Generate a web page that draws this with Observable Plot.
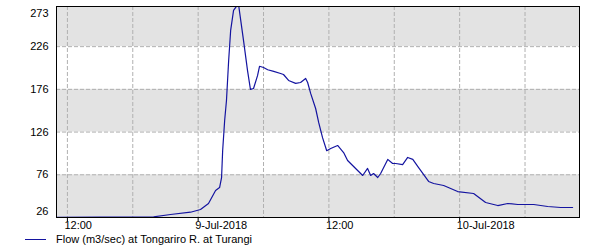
<!DOCTYPE html>
<html>
<head>
<meta charset="utf-8">
<script src="https://cdn.jsdelivr.net/npm/d3@7"></script>
<script src="https://cdn.jsdelivr.net/npm/@observablehq/plot@0.6"></script>
<style>
  body { margin: 0; background: #fff; font-family: "Liberation Sans", Arial, sans-serif; }
  #wrap { position: relative; width: 600px; height: 250px; }
  #legend { position: absolute; left: 0; top: 232px; width: 600px; height: 16px; font-size: 11px; color: #000; }
  #legend .sw { position: absolute; left: 25px; top: 7px; width: 21px; height: 0; border-top: 1px solid #1414a0; }
  #legend .lb { position: absolute; left: 56px; top: 1px; white-space: nowrap; }
</style>
</head>
<body>
<div id="wrap">
  <div id="chart"></div>
  <div id="legend"><span class="sw"></span><span class="lb">Flow (m3/sec) at Tongariro R. at Turangi</span></div>
</div>
<script>
const seriesName = "Flow (m3/sec) at Tongariro R. at Turangi";
const times = [
  "2018-07-08T11:00","2018-07-08T15:00","2018-07-08T19:55","2018-07-08T21:28","2018-07-08T23:18",
  "2018-07-09T00:13","2018-07-09T00:57","2018-07-09T01:36","2018-07-09T01:58","2018-07-09T02:09",
  "2018-07-09T02:15","2018-07-09T02:26","2018-07-09T02:36","2018-07-09T02:48","2018-07-09T02:59",
  "2018-07-09T03:15","2018-07-09T03:32","2018-07-09T03:43","2018-07-09T04:10","2018-07-09T04:32",
  "2018-07-09T04:48","2018-07-09T05:05","2018-07-09T05:27","2018-07-09T05:38","2018-07-09T06:00",
  "2018-07-09T06:23","2018-07-09T06:56","2018-07-09T07:34","2018-07-09T07:50","2018-07-09T08:18",
  "2018-07-09T08:57","2018-07-09T09:24","2018-07-09T09:52","2018-07-09T10:03","2018-07-09T10:20",
  "2018-07-09T10:47","2018-07-09T11:04","2018-07-09T11:25","2018-07-09T11:48","2018-07-09T12:10",
  "2018-07-09T12:48","2018-07-09T13:21","2018-07-09T13:43","2018-07-09T15:06","2018-07-09T15:33",
  "2018-07-09T15:50","2018-07-09T16:06","2018-07-09T16:29","2018-07-09T16:45","2018-07-09T17:24",
  "2018-07-09T17:51","2018-07-09T18:08","2018-07-09T18:46","2018-07-09T19:14","2018-07-09T19:42",
  "2018-07-09T20:14","2018-07-09T21:09","2018-07-09T21:37","2018-07-09T22:32","2018-07-09T23:49",
  "2018-07-10T01:17","2018-07-10T02:23","2018-07-10T03:30","2018-07-10T04:25","2018-07-10T05:20",
  "2018-07-10T06:48","2018-07-10T08:05","2018-07-10T09:17","2018-07-10T10:22"
];
const flows = [
  26.3, 26.4, 26.8, 29.5, 32.2,
  35.4, 42.4, 57.6, 61, 72.8,
  104.5, 139.6, 163, 209.8, 245,
  268.4, 273.5, 274.5, 233, 198,
  176, 177, 192, 203, 201.6,
  199, 197, 194.6, 193.4, 186.4,
  183, 184, 188.8, 184, 171,
  153.6, 137, 119.5, 104.2, 106.8,
  110.3, 102, 92.7, 75.2, 83.4,
  75.2, 77.5, 72.8, 77.5, 94,
  89.2, 89.2, 88, 96.3, 94,
  84.5, 68.2, 65.8, 63.5, 56.4,
  54.1, 43.6, 40, 42.4, 41.2,
  41.2, 38.9, 37.7, 37.7
];
const xDomain = ["2018-07-08T11:00", "2018-07-10T11:00"];
const yTicks = [26, 76, 126, 176, 226, 273];
const bandStarts = [26, 126, 226];
const bandEnds = [76, 176, 273];
const gridTimes = ["2018-07-08T12:00","2018-07-08T18:00","2018-07-09T00:00","2018-07-09T06:00",
                   "2018-07-09T12:00","2018-07-09T18:00","2018-07-10T00:00","2018-07-10T06:00"];
const labelTimes = ["2018-07-08T12:00","2018-07-09T00:00","2018-07-09T12:00","2018-07-10T00:00"];
const labelTexts = ["12:00","9-Jul-2018","12:00","10-Jul-2018"];

const P = s => new Date(s + "Z");
const data = times.map((t, i) => ({t: P(t), v: flows[i]}));
const bands = bandStarts.map((s, i) => ({y1: s, y2: bandEnds[i]}));
const grid = gridTimes.map(P);
const labels = labelTimes.map((t, i) => ({t: P(t), s: labelTexts[i]}));
const midTicks = yTicks.filter(v => v !== 26 && v !== 273);

const chart = Plot.plot({
  width: 600,
  height: 232,
  marginLeft: 56,
  marginRight: 21,
  marginTop: 6,
  marginBottom: 15,
  style: {fontFamily: "'Liberation Sans', Arial, sans-serif", fontSize: "11px", background: "#fff"},
  x: {type: "utc", domain: xDomain.map(P), axis: null, label: null},
  y: {domain: [26, 273], axis: null, label: null},
  marks: [
    Plot.rect(bands, {y1: "y1", y2: "y2", fill: "#e3e3e3"}),
    Plot.ruleY(midTicks, {stroke: "#b0b0b0", strokeDasharray: "4,2"}),
    Plot.ruleX(grid, {stroke: "#b0b0b0", strokeDasharray: "4,2"}),
    Plot.line(data, {x: "t", y: "v", stroke: "#1414a0", strokeWidth: 1.2, clip: true}),
    Plot.frame({stroke: "#000"}),
    Plot.axisX(labels.map(d => d.t), {anchor: "bottom", tickSize: 4, tickFormat: () => "", label: null, stroke: "#000"}),
    Plot.text(labels, {x: "t", text: "s", frameAnchor: "bottom", dy: 11, dx: -3, textAnchor: "start", fill: "#000"}),
    Plot.text(midTicks, {y: d => d, text: d => String(d), frameAnchor: "left", dx: -8, textAnchor: "end", fill: "#000"}),
    Plot.text([273], {y: d => d, text: d => String(d), frameAnchor: "left", dx: -8, dy: 7, textAnchor: "end", fill: "#000"}),
    Plot.text([26], {y: d => d, text: d => String(d), frameAnchor: "left", dx: -8, dy: -6, textAnchor: "end", fill: "#000"})
  ]
});
document.getElementById("chart").appendChild(chart);
</script>
</body>
</html>
